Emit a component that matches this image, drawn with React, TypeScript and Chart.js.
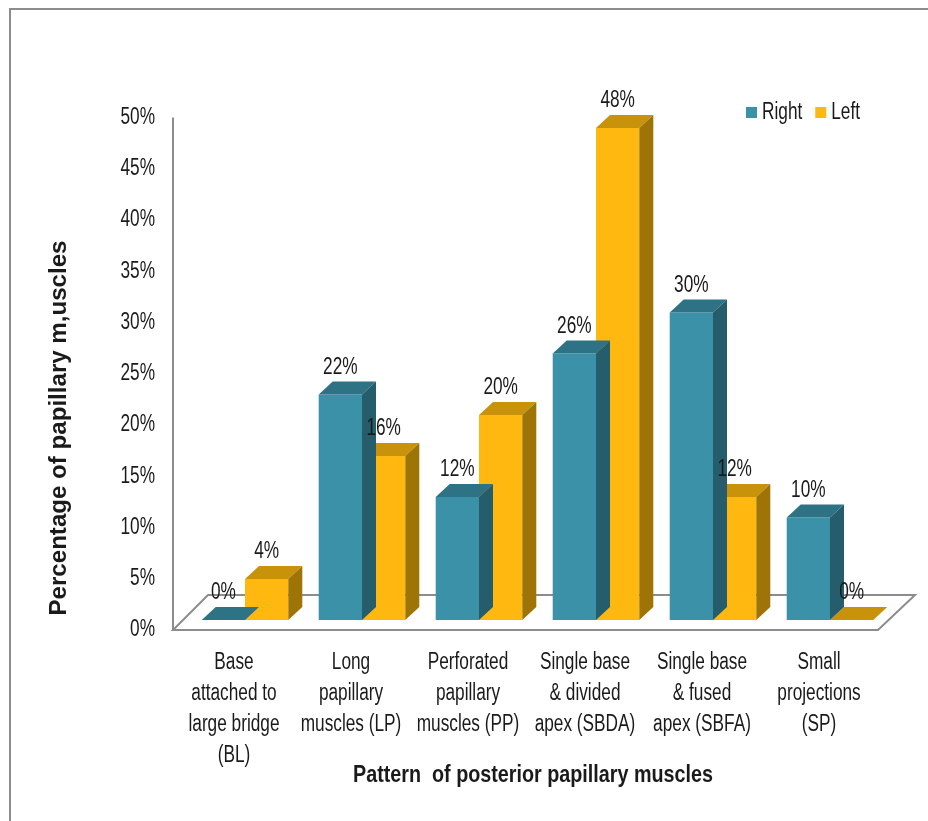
import React, { useEffect, useRef } from "react";
import { Chart, registerables } from "chart.js";

Chart.register(...registerables);

// Categories (multi-line tick labels), series values and axis ticks
const CATEGORIES: string[][] = [
  ["Base", "attached to", "large bridge", "(BL)"],
  ["Long", "papillary", "muscles (LP)"],
  ["Perforated", "papillary", "muscles (PP)"],
  ["Single base", "& divided", "apex (SBDA)"],
  ["Single base", "& fused", "apex (SBFA)"],
  ["Small", "projections", "(SP)"],
];
const RIGHT_VALUES = [0, 22, 12, 26, 30, 10];
const LEFT_VALUES = [4, 16, 20, 48, 12, 0];
const SERIES_NAMES = ["Right", "Left"];
const Y_MIN = 0;
const Y_MAX = 50;
const Y_STEP = 5;
const X_TITLE = "Pattern  of posterior papillary muscles";
const Y_TITLE = "Percentage of papillary m,uscles";

// Face colours per series: front, top, side
const FACES = [
  { front: "#3a91a8", top: "#2d7285", side: "#255d6c" },
  { front: "#ffb810", top: "#c8920b", side: "#9e7406" },
];

const FAMILY = '"Liberation Sans", Arial, sans-serif';
const FONT_PX = 23;
const SQUEEZE = 0.75; // tall, narrow lettering
const TEXT = "#1a1a1a";
const LINE = "#8c8c8c";

// Depth of each bar prism, and of the floor slab
const BAR_DX = 14;
const BAR_DY = -13;
const FLOOR_DX = 35;
const FLOOR_DY = -35;
const FRONT_SHIFT = 10; // front plane sits below the bars' plane

const poly = (ctx: CanvasRenderingContext2D, pts: number[][], fill: string) => {
  ctx.beginPath();
  ctx.moveTo(pts[0][0], pts[0][1]);
  for (let i = 1; i < pts.length; i++) ctx.lineTo(pts[i][0], pts[i][1]);
  ctx.closePath();
  ctx.fillStyle = fill;
  ctx.fill();
};

const text = (
  ctx: CanvasRenderingContext2D,
  s: string,
  x: number,
  y: number,
  align: CanvasTextAlign,
  sx = SQUEEZE,
  font = `${FONT_PX}px ${FAMILY}`
) => {
  ctx.save();
  ctx.translate(x, y);
  ctx.scale(sx, 1);
  ctx.font = font;
  ctx.textAlign = align;
  ctx.textBaseline = "middle";
  ctx.fillStyle = TEXT;
  ctx.fillText(s, 0, 0);
  ctx.restore();
};

const bar3d = {
  id: "bar3d",
  beforeDraw(chart: any) {
    const ctx = chart.ctx;
    ctx.save();
    ctx.strokeStyle = LINE;
    ctx.lineWidth = 2;
    ctx.beginPath();
    ctx.moveTo(10, chart.height);
    ctx.lineTo(10, 9);
    ctx.lineTo(chart.width, 9);
    ctx.stroke();
    ctx.restore();
  },
  beforeDatasetsDraw(chart: any) {
    const { ctx, chartArea, scales } = chart;
    const y0 = scales.y.getPixelForValue(Y_MIN) + FRONT_SHIFT;
    const yTop = scales.y.getPixelForValue(Y_MAX) + FRONT_SHIFT;
    const fl = chartArea.left - 13.5;
    const fr = chartArea.right - 10.5;
    ctx.save();
    ctx.strokeStyle = LINE;
    ctx.lineWidth = 2;
    // floor slab outline
    ctx.beginPath();
    ctx.moveTo(fl, y0);
    ctx.lineTo(fr, y0);
    ctx.lineTo(fr + FLOOR_DX + 2, y0 + FLOOR_DY);
    ctx.lineTo(fl + FLOOR_DX, y0 + FLOOR_DY);
    ctx.closePath();
    ctx.stroke();
    // value axis line
    ctx.beginPath();
    ctx.moveTo(fl, yTop);
    ctx.lineTo(fl, y0);
    ctx.stroke();
    ctx.restore();

    // value axis tick labels, on the front plane
    const ys = scales.y;
    ys.ticks.forEach((t: any, i: number) => {
      text(ctx, `${t.value}%`, 155, ys.getPixelForTick(i) + FRONT_SHIFT, "right");
    });
    // category labels
    const xs = scales.x;
    chart.data.labels.forEach((lines: string[], i: number) => {
      const cx = xs.getPixelForTick(i) - 11;
      lines.forEach((ln, j) => text(ctx, ln, cx, chartArea.bottom + 43 + j * 31, "center"));
    });
  },
  afterDatasetDraw(chart: any, args: any) {
    const ctx = chart.ctx;
    const faces = FACES[args.index];
    ctx.save();
    args.meta.data.forEach((el: any) => {
      const { x, y, base, width } = el.getProps(["x", "y", "base", "width"], true);
      const l = x - width / 2;
      const r = x + width / 2;
      poly(ctx, [[l, y], [r, y], [r + BAR_DX, y + BAR_DY], [l + BAR_DX, y + BAR_DY]], faces.top);
      if (base - y > 0.5) {
        poly(ctx, [[r, y], [r + BAR_DX, y + BAR_DY], [r + BAR_DX, base + BAR_DY], [r, base]], faces.side);
      }
    });
    ctx.restore();
  },
  afterDatasetsDraw(chart: any) {
    const { ctx } = chart;
    // value labels above each prism
    chart.data.datasets.forEach((ds: any, di: number) => {
      const meta = chart.getDatasetMeta(di);
      meta.data.forEach((el: any, i: number) => {
        const { x, y } = el.getProps(["x", "y"], true);
        text(ctx, `${ds.data[i]}%`, x, y + BAR_DY - 14, "center");
      });
    });

    // legend
    ctx.save();
    ctx.font = `${FONT_PX}px ${FAMILY}`;
    let lx = 746;
    const ly = 113;
    chart.data.datasets.forEach((ds: any, di: number) => {
      ctx.fillStyle = FACES[di].front;
      ctx.fillRect(lx, ly - 6, 11, 11);
      text(ctx, ds.label, lx + 16, ly, "left");
      lx += 16 + ctx.measureText(ds.label).width * SQUEEZE + 13;
    });
    ctx.restore();

    // axis titles
    const boldFont = `bold 24px ${FAMILY}`;
    ctx.save();
    ctx.font = boldFont;
    const xw = ctx.measureText(X_TITLE).width;
    ctx.restore();
    text(ctx, X_TITLE, 533, 775, "center", 360 / xw, boldFont);

    ctx.save();
    ctx.translate(59, 428);
    ctx.rotate(-Math.PI / 2);
    ctx.font = boldFont;
    const yw = ctx.measureText(Y_TITLE).width;
    ctx.scale(375 / yw, 1);
    ctx.textAlign = "center";
    ctx.textBaseline = "middle";
    ctx.fillStyle = TEXT;
    ctx.fillText(Y_TITLE, 0, 0);
    ctx.restore();
  },
};

export default function App() {
  const ref = useRef<HTMLCanvasElement | null>(null);

  useEffect(() => {
    document.body.style.margin = "0";
    document.body.style.overflow = "hidden";
    const canvas = ref.current;
    if (!canvas) return;
    const chart = new Chart(canvas, {
      type: "bar",
      data: {
        labels: CATEGORIES,
        datasets: [
          { label: SERIES_NAMES[0], data: RIGHT_VALUES, backgroundColor: FACES[0].front, borderWidth: 0 },
          { label: SERIES_NAMES[1], data: LEFT_VALUES, backgroundColor: FACES[1].front, borderWidth: 0 },
        ],
      },
      options: {
        responsive: false,
        animation: false,
        devicePixelRatio: 1,
        layout: { padding: { left: 0, right: 39.5, top: 107.5, bottom: 0 } },
        datasets: { bar: { categoryPercentage: 0.74, barPercentage: 1 } },
        plugins: { legend: { display: false }, tooltip: { enabled: false } },
        scales: {
          x: {
            grid: { display: false },
            border: { display: false },
            ticks: { display: false, autoSkip: false },
            afterFit: (scale: any) => {
              scale.height = 201;
            },
          },
          y: {
            min: Y_MIN,
            max: Y_MAX,
            grid: { display: false },
            border: { display: false },
            ticks: { display: false, stepSize: Y_STEP },
            afterFit: (scale: any) => {
              scale.width = 186.5;
            },
          },
        },
      },
      plugins: [bar3d],
    } as any);
    return () => chart.destroy();
  }, []);

  return <canvas ref={ref} width={928} height={821} style={{ display: "block" }} />;
}
